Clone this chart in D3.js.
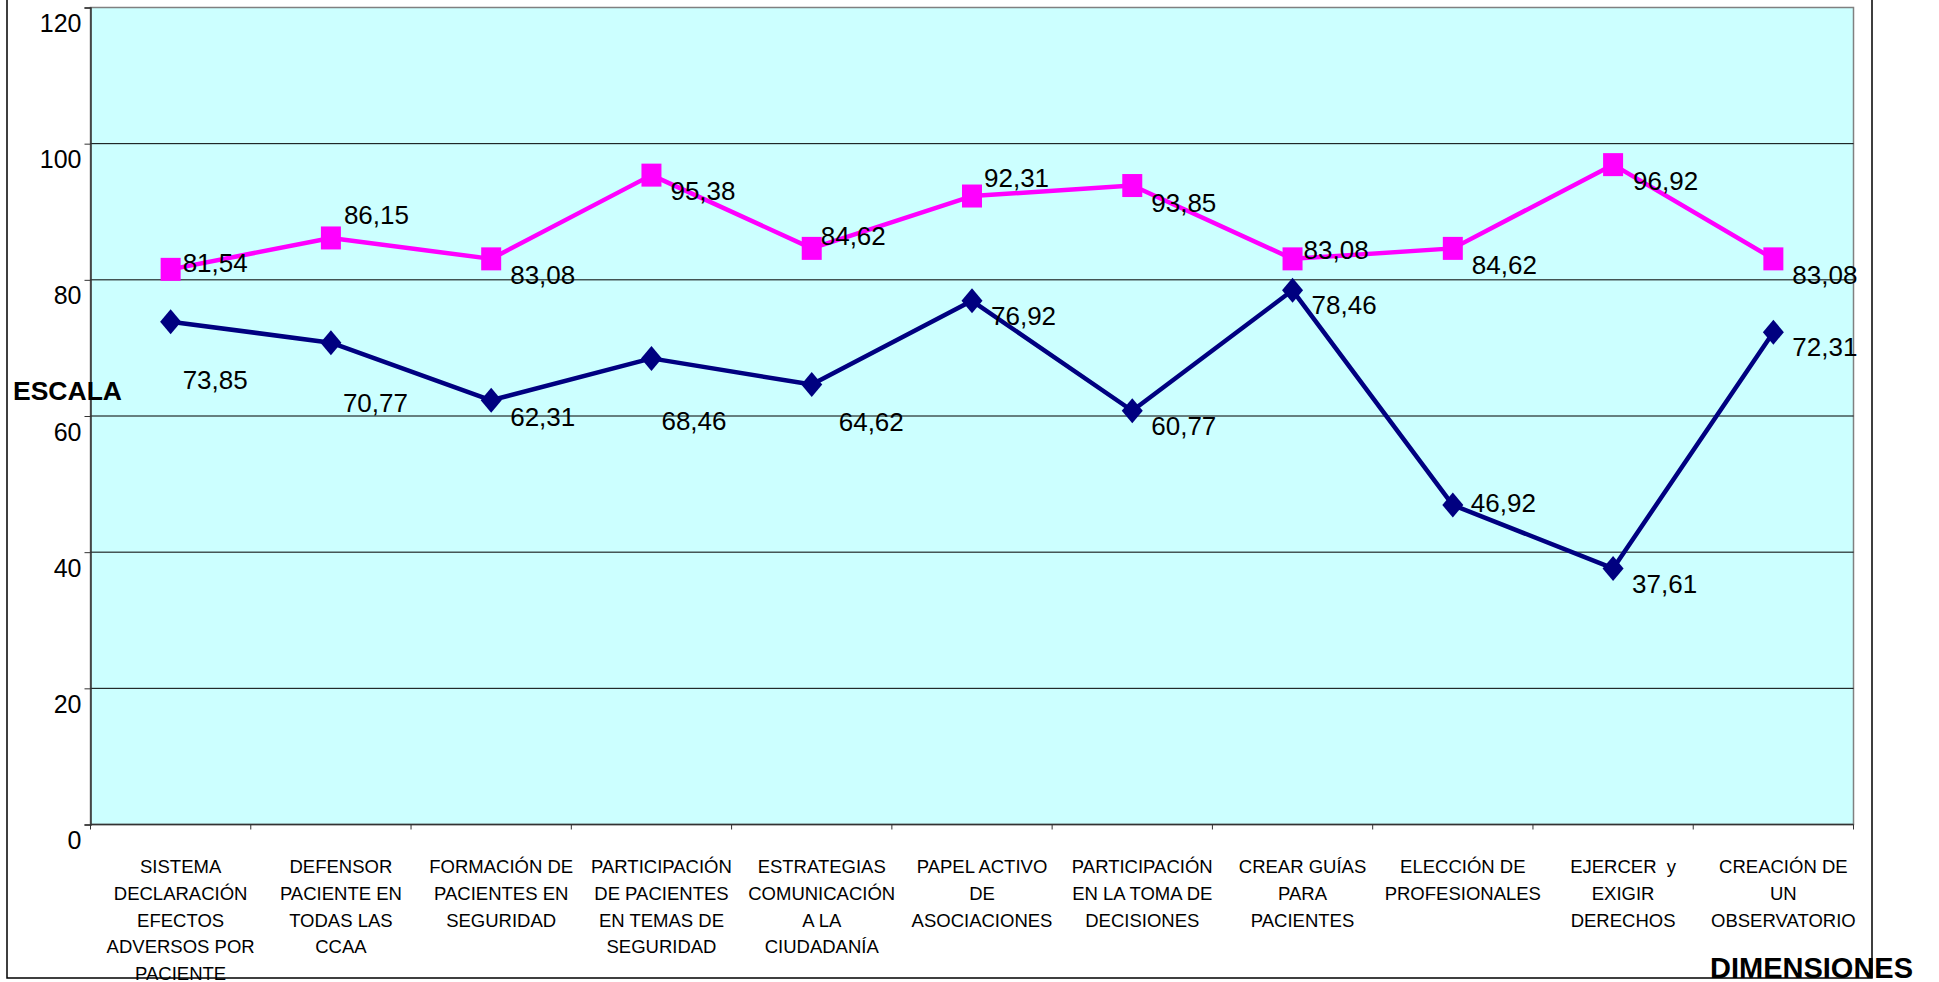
<!DOCTYPE html>
<html>
<head>
<meta charset="utf-8">
<script src="https://cdn.jsdelivr.net/npm/d3@7"></script>
<style>
  body { margin: 0; background: #fff; }
  svg { display: block; font-family: "Liberation Sans", Arial, sans-serif; }
</style>
</head>
<body>
<svg width="1939" height="982"></svg>
<script>
// categories (line breaks as in the original chart)
let categories = [
    "SISTEMA\nDECLARACIÓN\nEFECTOS\nADVERSOS POR\nPACIENTE",
    "DEFENSOR\nPACIENTE EN\nTODAS LAS\nCCAA",
    "FORMACIÓN DE\nPACIENTES EN\nSEGURIDAD",
    "PARTICIPACIÓN\nDE PACIENTES\nEN TEMAS DE\nSEGURIDAD",
    "ESTRATEGIAS\nCOMUNICACIÓN\nA LA\nCIUDADANÍA",
    "PAPEL ACTIVO\nDE\nASOCIACIONES",
    "PARTICIPACIÓN\nEN LA TOMA DE\nDECISIONES",
    "CREAR GUÍAS\nPARA\nPACIENTES",
    "ELECCIÓN DE\nPROFESIONALES",
    "EJERCER  y\nEXIGIR\nDERECHOS",
    "CREACIÓN DE\nUN\nOBSERVATORIO"
];
let pinkValues = [81.54, 86.15, 83.08, 95.38, 84.62, 92.31, 93.85, 83.08, 84.62, 96.92, 83.08];
let navyValues = [73.85, 70.77, 62.31, 68.46, 64.62, 76.92, 60.77, 78.46, 46.92, 37.61, 72.31];
let yTicks = [0, 20, 40, 60, 80, 100, 120];

// where each value label sits relative to its marker (px)
let pinkLabelOffsets = [[12, -7], [13, -23], [19, 16], [19, 16], [9, -13], [12, -18], [19, 17], [11, -9], [19, 16], [20, 16], [19, 16]];
let navyLabelOffsets = [[12, 58], [12, 60], [19, 16], [10, 62], [27, 37], [19, 15], [19, 15], [19, 14], [18, -2], [19, 15], [19, 14]];

let plotLeft = 90.5, plotRight = 1853.5, plotTop = 7.5, plotBottom = 824.5;

let svg = d3.select('svg');

let x = d3.scaleBand()
    .domain(d3.range(categories.length))
    .range([plotLeft, plotRight]);
let y = d3.scaleLinear()
    .domain([0, 120])
    .range([plotBottom, plotTop]);

function cx(i) { return x(i) + x.bandwidth() / 2; }
function fmt(v) { return v.toFixed(2).replace('.', ','); }

// plot background
svg.append('rect')
    .attr('x', plotLeft).attr('y', plotTop)
    .attr('width', plotRight - plotLeft).attr('height', plotBottom - plotTop)
    .attr('fill', '#CCFFFF')
    .attr('stroke', '#808080')
    .attr('stroke-width', 1.5);

// gridlines
svg.append('g')
    .selectAll('line')
    .data(yTicks.filter(function (d) { return d > 0 && d < 120; }))
    .join('line')
    .attr('x1', plotLeft).attr('x2', plotRight)
    .attr('y1', function (d) { return y(d); })
    .attr('y2', function (d) { return y(d); })
    .attr('stroke', '#000')
    .attr('stroke-width', 1);

// y axis
let yAxis = svg.append('g')
    .attr('transform', 'translate(' + plotLeft + ',0)')
    .call(d3.axisLeft(y).tickValues(yTicks).tickSize(6).tickPadding(3));
yAxis.select('.domain').attr('stroke', '#333').attr('stroke-width', 1.5);
yAxis.selectAll('.tick line').attr('stroke', '#333');
yAxis.selectAll('text')
    .attr('y', 16)
    .attr('font-size', 25)
    .attr('font-family', '"Liberation Sans", Arial, sans-serif')
    .attr('fill', '#000');

// x axis line + ticks at category boundaries
svg.append('line')
    .attr('x1', plotLeft).attr('x2', plotRight)
    .attr('y1', plotBottom).attr('y2', plotBottom)
    .attr('stroke', '#333').attr('stroke-width', 1.5);
svg.append('g')
    .selectAll('line')
    .data(d3.range(categories.length + 1))
    .join('line')
    .attr('x1', function (d) { return plotLeft + d * x.step(); })
    .attr('x2', function (d) { return plotLeft + d * x.step(); })
    .attr('y1', plotBottom).attr('y2', plotBottom + 5)
    .attr('stroke', '#333');

// category labels
svg.append('g')
    .selectAll('text')
    .data(categories)
    .join('text')
    .attr('text-anchor', 'middle')
    .attr('font-size', 18.5)
    .attr('fill', '#000')
    .style('white-space', 'pre')
    .each(function (d, i) {
        let t = d3.select(this);
        d.split('\n').forEach(function (line, k) {
            t.append('tspan')
                .attr('x', cx(i) + 10)
                .attr('y', 873.3 + k * 26.7)
                .text(line);
        });
    });

let line = d3.line()
    .x(function (d, i) { return cx(i); })
    .y(function (d) { return y(d); });

function drawSeries(values, color, shape, offsets) {
    let g = svg.append('g');
    g.append('path')
        .datum(values)
        .attr('d', line)
        .attr('fill', 'none')
        .attr('stroke', color)
        .attr('stroke-width', 4.5)
        .attr('stroke-linejoin', 'round');
    g.selectAll('path.marker')
        .data(values)
        .join('path')
        .attr('class', 'marker')
        .attr('d', shape)
        .attr('transform', function (d, i) { return 'translate(' + cx(i) + ',' + y(d) + ')'; })
        .attr('fill', color);
    g.selectAll('text')
        .data(values)
        .join('text')
        .attr('x', function (d, i) { return cx(i) + offsets[i][0]; })
        .attr('y', function (d, i) { return y(d) + offsets[i][1]; })
        .attr('dy', '0.36em')
        .attr('font-size', 26)
        .attr('fill', '#000')
        .text(fmt);
}

drawSeries(pinkValues, '#FF00FF', 'M-10,-11.5H10V11.5H-10Z', pinkLabelOffsets);
drawSeries(navyValues, '#000080', 'M0,-12.5L10.5,0L0,12.5L-10.5,0Z', navyLabelOffsets);

// axis titles
svg.append('text')
    .attr('x', 13).attr('y', 390.7).attr('dy', '0.36em')
    .attr('font-size', 26.5).attr('font-weight', 'bold')
    .text('ESCALA');
svg.append('text')
    .attr('x', 1710).attr('y', 978)
    .attr('font-size', 29).attr('font-weight', 'bold')
    .text('DIMENSIONES');

// outer chart border (drawn last, over the texts)
svg.append('path')
    .attr('d', 'M7,-2V978H1872V-2')
    .attr('fill', 'none')
    .attr('stroke', '#000')
    .attr('stroke-width', 1.5);
</script>
</body>
</html>
